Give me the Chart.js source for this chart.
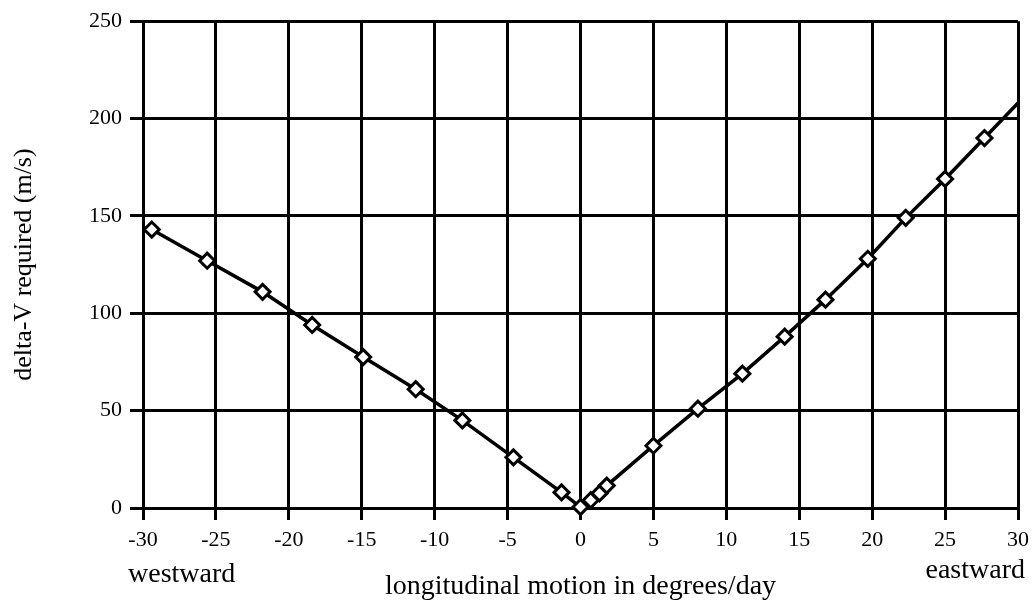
<!DOCTYPE html>
<html>
<head>
<meta charset="utf-8">
<script src="https://cdn.jsdelivr.net/npm/chart.js@4/dist/chart.umd.min.js"></script>
<style>
    html, body { margin: 0; padding: 0; background: #fff; }
    #wrap { width: 1036px; height: 604px; }
</style>
</head>
<body>
<div id="wrap"><canvas id="chart" width="1036" height="604"></canvas></div>
<script>
// longitudinal drift rate (deg/day) and delta-V needed (m/s)
const driftRates = [-29.4, -25.6, -21.8, -18.4, -14.9, -11.3, -8.1, -4.6, -1.3, 0, 0.7, 1.3, 1.8, 5.0, 8.05, 11.1, 14.0, 16.8, 19.7, 22.3, 25.0, 27.7, 30];
const deltaV = [143, 127, 111, 94, 77.5, 61, 45, 26, 8, 0.5, 4, 7.5, 11.5, 32, 51, 69, 88, 107, 128, 149, 169, 190, 208];
// the line runs on to the frame edge, the last point has no marker
const markerShown = driftRates.map((x, i) => i < driftRates.length - 1);

const xTicks = [-30, -25, -20, -15, -10, -5, 0, 5, 10, 15, 20, 25, 30];
const yTicks = [0, 50, 100, 150, 200, 250];

const xTitle = "longitudinal motion in degrees/day";
const yTitle = "delta-V required (m/s)";
const leftNote = "westward";
const rightNote = "eastward";

const serif = "'Liberation Serif', 'Times New Roman', serif";

const sideNotes = {
    id: 'sideNotes',
    afterDraw(chart) {
        const ctx = chart.ctx;
        const area = chart.chartArea;
        ctx.save();
        ctx.fillStyle = '#000';
        ctx.font = `28px ${serif}`;
        ctx.textBaseline = 'alphabetic';
        ctx.textAlign = 'left';
        ctx.fillText(leftNote, area.left - 15, 582);
        ctx.textAlign = 'right';
        ctx.fillText(rightNote, area.right + 7, 578);
        ctx.restore();
    }
};

const points = driftRates.map((x, i) => ({ x: x, y: deltaV[i] }));

new Chart(document.getElementById('chart'), {
    type: 'line',
    data: {
        datasets: [{
            data: points,
            borderColor: '#000',
            borderWidth: 3.5,
            pointStyle: 'rectRot',
            pointRadius: markerShown.map(s => s ? 7.5 : 0),
            pointBackgroundColor: '#fff',
            pointBorderColor: '#000',
            pointBorderWidth: 3,
            tension: 0,
            clip: false
        }]
    },
    options: {
        responsive: false,
        animation: false,
        devicePixelRatio: 1,
        layout: { padding: { top: 18, right: 14, left: 0, bottom: 0 } },
        plugins: {
            legend: { display: false },
            tooltip: { enabled: false }
        },
        scales: {
            x: {
                type: 'linear',
                min: -30,
                max: 30,
                afterBuildTicks: scale => { scale.ticks = xTicks.map(v => ({ value: v })); },
                afterFit: scale => { scale.height = 96; },
                grid: { color: '#000', lineWidth: 3, tickLength: 12, tickColor: '#000' },
                border: { color: '#000', width: 3 },
                ticks: {
                    color: '#000',
                    font: { family: serif, size: 22 },
                    padding: 7,
                    maxRotation: 0,
                    autoSkip: false
                },
                title: {
                    display: true,
                    text: xTitle,
                    color: '#000',
                    font: { family: serif, size: 28 },
                    padding: { top: 0, bottom: 1 }
                }
            },
            y: {
                type: 'linear',
                min: 0,
                max: 250,
                afterBuildTicks: scale => { scale.ticks = yTicks.map(v => ({ value: v })); },
                afterFit: scale => { scale.width = 143; },
                grid: { color: '#000', lineWidth: 3, tickLength: 13, tickColor: '#000' },
                border: { color: '#000', width: 3 },
                ticks: {
                    color: '#000',
                    font: { family: serif, size: 22 },
                    padding: 8
                },
                title: {
                    display: true,
                    text: yTitle,
                    color: '#000',
                    font: { family: serif, size: 26 },
                    padding: { top: 9, bottom: 0 }
                }
            }
        }
    },
    plugins: [sideNotes]
});
</script>
</body>
</html>
